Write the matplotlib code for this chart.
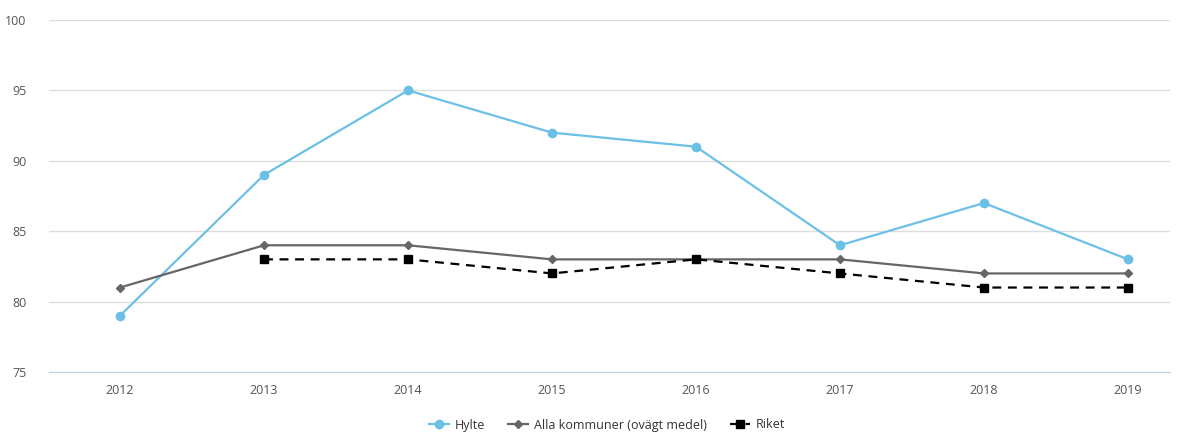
import matplotlib
matplotlib.use("Agg")
import matplotlib.pyplot as plt
import numpy as np

years = ["2012", "2013", "2014", "2015", "2016", "2017", "2018", "2019"]
hylte = [79, 89, 95, 92, 91, 84, 87, 83]
alla = [81, 84, 84, 83, 83, 83, 82, 82]
riket = [np.nan, 83, 83, 82, 83, 82, 81, 81]
yticks = [75, 80, 85, 90, 95, 100]

plt.rcParams['font.family'] = ['Open Sans', 'DejaVu Sans']

fig = plt.figure(figsize=(11.86, 4.32), dpi=100)
ax = fig.add_axes([49/1186, 1-372/432, (1170-49)/1186, (372-20)/432])

x = np.arange(len(years))
ax.plot(x, hylte, color="#6cc0e5", lw=1.6, marker="o", ms=6, label="Hylte", zorder=3)
ax.plot(x, alla, color="#666666", lw=1.6, marker="D", ms=4.5, label="Alla kommuner (ovägt medel)", zorder=3)
ax.plot(x, riket, color="#000000", lw=1.6, ls=(0, (4, 3)), marker="s", ms=6, label="Riket", zorder=3)

ax.set_xlim(-71/144, 7 + 42/144)
ax.set_ylim(75, 100)
ax.set_yticks(yticks)
ax.set_xticks(x)
ax.set_xticklabels(years)
ax.grid(axis="y", color="#dddddd", lw=1)
ax.set_axisbelow(True)
for s in ["top", "right", "left"]:
    ax.spines[s].set_visible(False)
ax.spines["bottom"].set_color("#c0d0e0")
ax.tick_params(axis="both", length=0, colors="#555555", labelsize=9)
ax.tick_params(axis="x", pad=9)
ax.tick_params(axis="y", pad=16)

leg = fig.legend(loc="center", bbox_to_anchor=(607/1186, 1-425/432), ncol=3, frameon=False,
                 fontsize=9, handlelength=1.6, columnspacing=1.8, handletextpad=0.5)
for t in leg.get_texts():
    t.set_color("#333333")

fig.savefig("out.png", dpi=100)
